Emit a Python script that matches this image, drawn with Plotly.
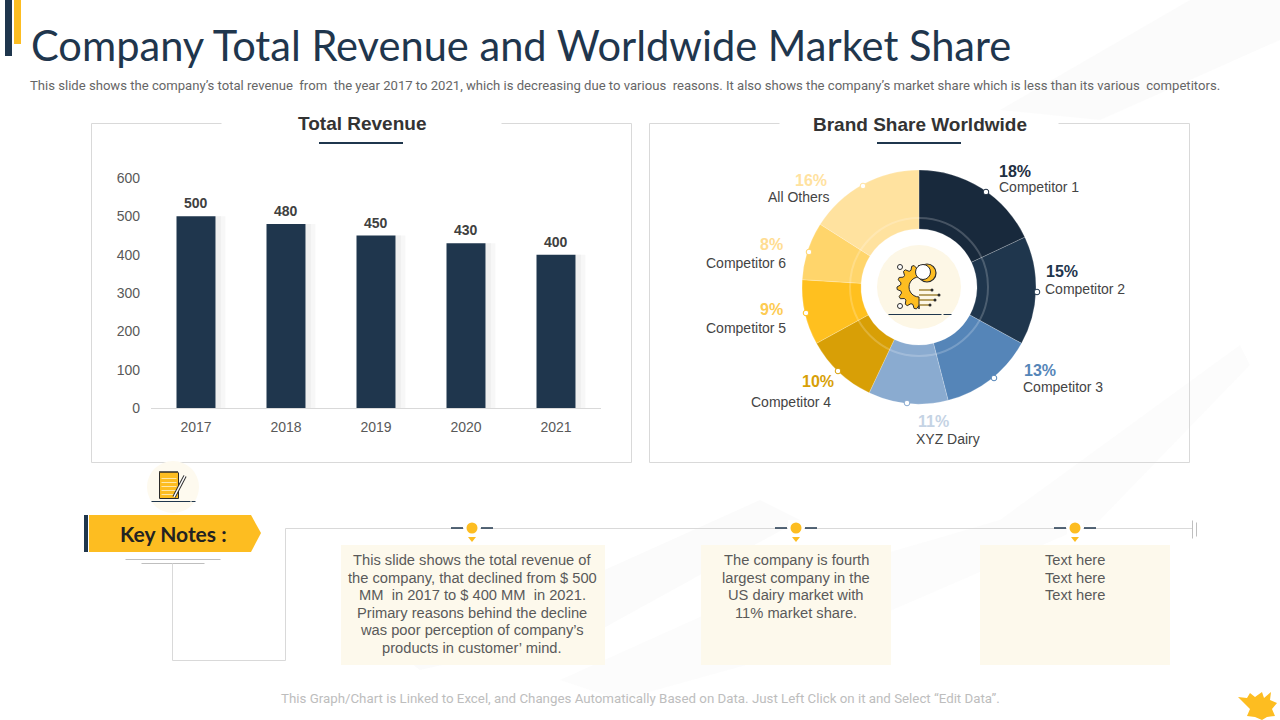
import math
import plotly.graph_objects as go

years = ["2017", "2018", "2019", "2020", "2021"]
revenue = [500, 480, 450, 430, 400]
brands = ["Competitor 1", "Competitor 2", "Competitor 3", "XYZ Dairy", "Competitor 4",
          "Competitor 5", "Competitor 6", "All Others"]
shares = [18, 15, 13, 11, 10, 9, 8, 16]
slice_colors = ["#18293C", "#1F364D", "#5585B8", "#8AABD0", "#D89F06", "#FFC01F", "#FFD56B", "#FFE29F"]

W, H = 1280, 720
NAVY = "#1F364D"
GOLD = "#FDBD21"
GRID = "#D9D9D9"
TXT = "#595959"
INK = "#2B2B2B"


def fx(x):
    return x / W


def fy(y):
    return 1 - y / H


shapes = []
annos = []


def line(x0, y0, x1, y1, color=GRID, width=1):
    off = 0.5 if width == 1 else 0
    shapes.append(dict(type="line", xref="paper", yref="paper", x0=fx(x0 + off), y0=fy(y0 + off), x1=fx(x1 + off),
                       y1=fy(y1 + off), line=dict(color=color, width=width)))


def rect(x0, y0, x1, y1, fill, layer="above"):
    shapes.append(dict(type="rect", xref="paper", yref="paper", x0=fx(x0), y0=fy(y0), x1=fx(x1), y1=fy(y1),
                       fillcolor=fill, line=dict(width=0), layer=layer))


def circle(cx, cy, r, fill="rgba(0,0,0,0)", stroke=None, width=1, layer="above"):
    shapes.append(dict(type="circle", xref="paper", yref="paper", x0=fx(cx - r), y0=fy(cy - r), x1=fx(cx + r),
                       y1=fy(cy + r), fillcolor=fill, layer=layer,
                       line=dict(color=stroke or "rgba(0,0,0,0)", width=width if stroke else 0)))


def poly(points, fill, layer="above", stroke=None, width=1):
    d = "M" + " L".join(f"{fx(a):.5f},{fy(b):.5f}" for a, b in points) + " Z"
    shapes.append(dict(type="path", xref="paper", yref="paper", path=d, fillcolor=fill, layer=layer,
                       line=dict(color=stroke or "rgba(0,0,0,0)", width=width if stroke else 0)))


def text(x, y, s, size=14, color=TXT, family="Liberation Sans", anchor="center", bold=False):
    if bold:
        s = f"<b>{s}</b>"
    annos.append(dict(x=fx(x), y=fy(y), xref="paper", yref="paper", text=s, showarrow=False, xanchor=anchor,
                      yanchor="middle", font=dict(size=size, color=color, family=family), borderpad=0, borderwidth=0))


# faint background brush strokes
poly([(1000, 110), (1190, 0), (1280, 0), (1280, 40), (1100, 120)], "rgba(244,244,244,0.35)", "below")
poly([(560, 680), (760, 590), (1000, 520), (1240, 345), (1250, 365), (1100, 520), (800, 650), (620, 700)],
     "rgba(245,245,245,0.35)", "below")
poly([(380, 640), (560, 590), (760, 500), (800, 520), (600, 630), (420, 670)], "rgba(246,246,246,0.4)", "below")

# header accents
rect(5, 0, 12, 56, NAVY)
rect(14, 0, 21, 44, GOLD)
text(31, 45, "Company Total Revenue and Worldwide Market Share", size=41.6, color=NAVY, family="Lato", anchor="left")
text(30, 85, "This slide shows the company’s total revenue  from  the year 2017 to 2021, which is decreasing due to various  "
             "reasons. It also shows the company’s market share which is less than its various  competitors.",
     size=13.1, color="#666666", family="Roboto", anchor="left")

# panels
for left, right, gap0, gap1 in [(91, 631, 221, 501), (649, 1189, 779, 1058)]:
    line(left, 123, gap0, 123)
    line(gap1, 123, right, 123)
    line(left, 123, left, 462)
    line(right, 123, right, 462)
    line(left, 462, right, 462)
line(319, 143, 403, 143, NAVY, 2)
line(877, 143, 961, 143, NAVY, 2)
text(362, 123, "Total Revenue", size=19, color="#333333", bold=True)
text(920, 124, "Brand Share Worldwide", size=19, color="#333333", bold=True)

# doughnut dressing
circle(919, 287, 69, stroke="rgba(255,255,255,0.2)", width=2)
circle(919, 287, 42, fill="#FDF7E6")
marker_pts = [(986, 192), (1037, 292), (994, 378), (907, 403), (838, 371), (806, 313), (809, 252), (863, 186)]
for (cx, cy), col in zip(marker_pts, slice_colors):
    circle(cx, cy, 2.8, fill="#FFFFFF", stroke=col, width=1)

# doughnut labels
labels = [
    (999, 171, "18%", "#1F2F42", 999, 187, "Competitor 1", "left"),
    (1046, 271, "15%", NAVY, 1045, 289, "Competitor 2", "left"),
    (1024, 371, "13%", "#5585B8", 1023, 387, "Competitor 3", "left"),
    (949, 421, "11%", "#C5D3E4", 948, 439, "XYZ Dairy", "center"),
    (834, 381, "10%", "#D89F06", 831, 402, "Competitor 4", "right"),
    (783, 309, "9%", "#FDCB52", 786, 328, "Competitor 5", "right"),
    (783, 244, "8%", "#FFDD92", 786, 263, "Competitor 6", "right"),
    (827, 180, "16%", "#FFE29F", 829, 197, "All Others", "right"),
]
for px, py, pct, col, nx, ny, name, side in labels:
    text(px, py, pct, size=16, color=col, anchor="left" if side == "left" else "right", bold=True)
    text(nx, ny, name, size=14, color="#444444", anchor=side)

# centre gear icon: half gear with teeth on the left
gear = [(919, 265)]
steps = 28
for i in range(steps + 1):
    a = math.pi / 2 + math.pi * i / steps
    r = 22 if (i // 2) % 2 == 1 else 18.5
    gear.append((919 + r * math.cos(a), 287 - r * math.sin(a)))
gear.append((919, 309))
for i in range(13):
    a = -math.pi / 2 - math.pi * i / 12
    gear.append((919 + 10 * math.cos(a), 287 - 10 * math.sin(a)))
poly(gear, GOLD, stroke=INK, width=1)
circle(927, 273, 9, fill=GOLD, stroke=INK, width=1.2)
circle(923, 272, 7.5, fill="#FFFFFF", stroke=INK, width=1)
for y0, x1 in [(290, 932), (295, 939), (300, 935), (305, 930)]:
    line(919, y0, x1, y0, "#8A6A10", 1.2)
    circle(x1, y0, 1.5, fill=INK)
circle(900, 267, 2.5, fill="#FFFFFF", stroke=INK, width=1)
circle(900, 306, 2.5, fill="#FFFFFF", stroke=INK, width=1)
line(888, 314, 941, 314, NAVY, 1)
line(943, 314, 951, 314, NAVY, 1)

# notes icon
circle(173, 487, 26, fill="#FEFAEF")
rect(159, 472, 178, 498, GOLD)
for yy in [478, 482, 486, 490, 494]:
    line(161, yy, 176, yy, "#FFE7A8", 1)
line(159, 472, 178, 472, INK, 1.5)
line(178, 472, 178, 498, INK, 1)
line(159, 472, 159, 498, INK, 1)
line(159, 498, 178, 498, INK, 1)
line(174, 497, 185, 476, INK, 3.5)
line(174, 497, 185, 476, "#FFFFFF", 1.6)
line(151, 501, 190, 501, NAVY, 1)
line(191, 501, 195, 501, NAVY, 1)

# key-notes tag
rect(84, 515, 88, 552, NAVY)
poly([(89, 515), (251, 515), (261, 533), (251, 552), (89, 552)], GOLD)
text(173, 533, "Key Notes :", size=21, color="#222222", family="Lato", bold=True)
line(125, 559, 220, 559, "#BFBFBF", 1)
line(141, 563, 204, 563, "#BFBFBF", 1)

# connector
line(172, 563, 172, 660)
line(172, 660, 285, 660)
line(285, 660, 285, 528)
line(285, 528, 1192, 528)
line(1192, 520, 1192, 538, "#BFBFBF", 1)
line(1196, 522, 1196, 536, "#BFBFBF", 1)

# note cards
cards = [
    (341, 545, 605, 665, 472, ["This slide shows the total revenue of", "the company, that declined from $ 500",
                               "MM  in 2017 to $ 400 MM  in 2021.", "Primary reasons behind the decline",
                               "was poor perception of company’s", "products in customer’ mind."]),
    (701, 545, 891, 665, 796, ["The company is fourth", "largest company in the", "US dairy market with",
                               "11% market share."]),
    (980, 545, 1170, 665, 1075, ["Text here", "Text here", "Text here"]),
]
for x0, y0, x1, y1, cx, lines_ in cards:
    rect(x0, y0, x1, y1, "#FDF9EC", "below")
    rect(cx - 8, 520, cx + 8, 536, "#FFFFFF")
    line(cx - 21, 528, cx - 9, 528, NAVY, 1.5)
    line(cx + 9, 528, cx + 21, 528, NAVY, 1.5)
    circle(cx, 528, 5.5, fill=GOLD)
    poly([(cx - 4, 537), (cx + 4, 537), (cx, 542)], GOLD)
    for i, t in enumerate(lines_):
        text(cx, 560 + i * 17.6, t, size=14.7, color="#5A5A5A")

text(640, 698, "This Graph/Chart is Linked to Excel, and Changes Automatically Based on Data. Just Left Click on it and Select “Edit Data”.",
     size=13.3, color="#BDBDBD", family="Roboto")

# corner splash
poly([(1238, 697), (1247, 698), (1250, 693), (1255, 697), (1262, 692), (1264, 698), (1271, 692), (1270, 700),
      (1277, 703), (1272, 709), (1275, 716), (1267, 717), (1262, 720), (1255, 717), (1247, 716), (1250, 709)], GOLD)

# bar value labels, anchored through the data axes (category index on x)
for idx, v in enumerate(revenue):
    annos.append(dict(x=idx, y=v, xref="x", yref="y", text=f"<b>{v}</b>", showarrow=False, yanchor="middle",
                      yshift=13, font=dict(size=14, color="#404040", family="Liberation Sans")))

fig = go.Figure()
fig.add_bar(x=years, y=revenue, width=0.11, offset=0.2167, marker=dict(color="#F7F7F7", line=dict(width=0)),
            hoverinfo="skip", showlegend=False)
fig.add_bar(x=years, y=revenue, width=0.06, offset=0.2167, marker=dict(color="#EFEFEF", line=dict(width=0)),
            hoverinfo="skip", showlegend=False)
fig.add_bar(x=years, y=revenue, width=0.4333, offset=-0.2167, marker=dict(color=NAVY, line=dict(width=0)),
            showlegend=False)
fig.add_pie(labels=brands, values=shares, hole=58 / 117, sort=False, direction="clockwise", rotation=0,
            marker=dict(colors=slice_colors, line=dict(color="rgba(255,255,255,0.35)", width=0.6)),
            textinfo="none", showlegend=False,
            domain=dict(x=[fx(802), fx(1036)], y=[fy(404), fy(170)]))

fig.update_layout(
    width=W, height=H, autosize=False, margin=dict(l=0, r=0, t=0, b=0, autoexpand=False),
    paper_bgcolor="#FFFFFF", plot_bgcolor="rgba(0,0,0,0)", barmode="overlay", showlegend=False,
    xaxis=dict(domain=[fx(151), fx(601)], type="category", range=[-0.5, 4.5], showgrid=False, showline=True,
               linecolor=GRID, ticks="", tickfont=dict(size=14, color=TXT, family="Liberation Sans"),
               ticklabelstandoff=6),
    yaxis=dict(domain=[fy(408), fy(178)], range=[0, 600], tickvals=[0, 100, 200, 300, 400, 500, 600],
               showgrid=False, zeroline=False, showline=False, ticks="",
               tickfont=dict(size=14, color=TXT, family="Liberation Sans"), ticklabelstandoff=10),
    shapes=shapes, annotations=annos,
)
fig.write_html("out.html", config={"displayModeBar": False}, post_script="document.body.style.margin='0';")
